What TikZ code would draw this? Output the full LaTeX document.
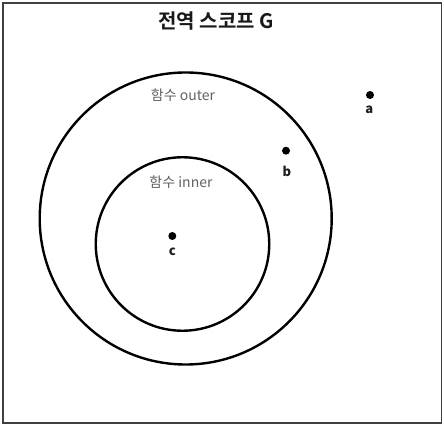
\documentclass[tikz,border=0pt]{standalone}
\usepackage{fontspec}
\setmainfont{Noto Sans CJK KR}
\newfontfamily\krbold{Noto Sans CJK KR Bold}
\begin{document}
\begin{tikzpicture}[x=1pt,y=-1pt,
  scope/.style={draw=black,line width=2.4pt},
  scopelabel/.style={text=black!62,font=\fontsize{14}{16}\selectfont,inner sep=0pt},
  var/.style={circle,fill=black,inner sep=0pt,minimum size=8pt},
  varlabel/.style={text=black!88,font=\fontsize{13}{15}\selectfont\bfseries,inner sep=0pt}]
\useasboundingbox (0,0) rectangle (444,427);
\node[draw=black!75,line width=1.8pt,minimum width=438.5pt,minimum height=420pt,inner sep=0pt] (G) at (222.2,213) {};
\node[font=\fontsize{20}{22}\selectfont\krbold,text=black!90,inner sep=0pt] (title) at (216,21) {전역 스코프 G};
\node[scope,circle,minimum size=292pt,inner sep=0pt] (outer) at (185.7,218.5) {};
\node[scope,circle,minimum size=173.5pt,inner sep=0pt] (inner) at (182.5,244) {};
\node[scopelabel] (outerlabel) at (183,95) {함수 outer};
\node[scopelabel] (innerlabel) at (181,182) {함수 inner};
\node[var] (a) at (370,95) {};
\node[varlabel] (alabel) at (369.3,110) {a};
\node[var] (b) at (286,150.7) {};
\node[varlabel] (blabel) at (287,171) {b};
\node[var] (c) at (172.3,236) {};
\node[varlabel] (clabel) at (172.3,251.5) {c};
\end{tikzpicture}
\end{document}
